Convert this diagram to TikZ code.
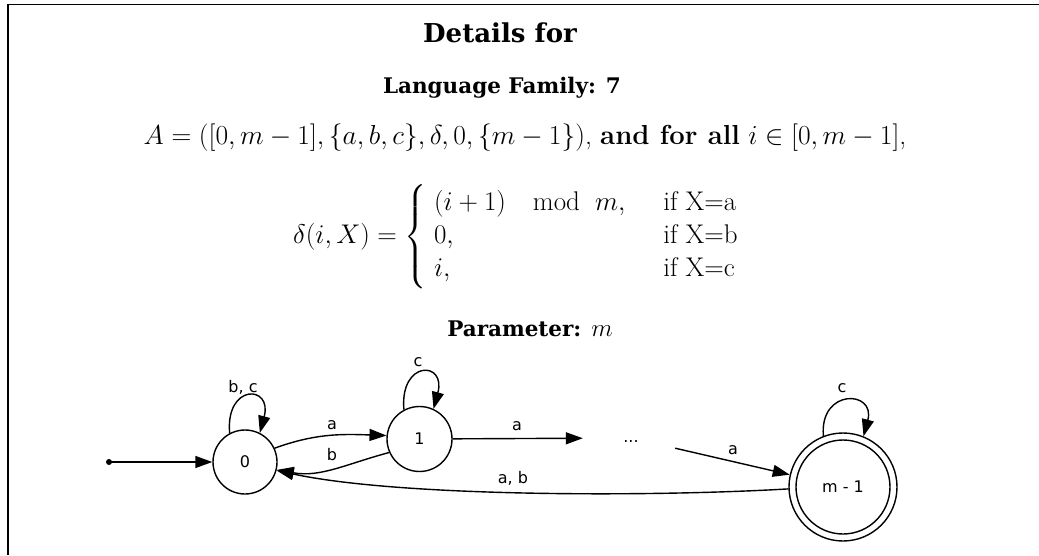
\RequirePackage{fix-cm}
\documentclass[tikz,border=0pt]{standalone}
\usepackage{amsmath}
\usepackage{fontspec}
\usetikzlibrary{arrows.meta}
\newfontfamily\headfont{DejaVu Serif}
\newfontfamily\graphfont{DejaVu Sans}
\begin{document}
\begin{tikzpicture}[x=1pt,y=1pt,
  headtitle/.style={font=\headfont\bfseries\fontsize{26}{30}\selectfont, inner sep=0pt},
  headsub/.style={font=\headfont\bfseries\fontsize{21.5}{25}\selectfont, inner sep=0pt},
  mathtext/.style={font=\fontsize{27}{30}\selectfont, inner sep=0pt},
  state/.style={circle, draw, line width=1.4pt, minimum size=64pt, inner sep=0pt,
    font=\graphfont\fontsize{16}{18}\selectfont},
  edge/.style={line width=1.4pt, -{Triangle[length=17pt,width=12pt]}},
  elabel/.style={font=\graphfont\fontsize{16}{18}\selectfont, inner sep=0pt}]
\path[use as bounding box] (0,0) rectangle (1039,555);
\draw[line width=1.5pt] (8,0) -- (8,550.5) -- (1039,550.5);

\node[headtitle] (title) at (500,522) {Details for};
\node[headsub] (family) at (502,467) {Language Family: 7};
\node[mathtext, font=\fontsize{27.5}{32}\selectfont] (defn) at (525,417)
  {$A=([0,m-1],\{a,b,c\},\delta,0,\{m-1\})$, \textbf{and for all} $i\in[0,m-1]$,};
\node[mathtext] (delta) at (516,318)
  {$\delta(i,X)=\left\{\renewcommand{\arraystretch}{1.1}\begin{array}{@{\;}l@{\hspace{1.4em}}l@{}}
     (i+1)\quad\mathrm{mod}\;\; m, & \text{if X=a}\\
     0, & \text{if X=b}\\
     i, & \text{if X=c}
   \end{array}\right.$};
\node[headsub] (param) at (530,226) {Parameter: \textmd{\fontsize{25}{30}\selectfont$m$}};

% automaton
\coordinate (init) at (109,93);
\fill (init) circle (3);
\node[state] (s0) at (245,93) {0};
\node[state, minimum size=65pt] (s1) at (419.5,116) {1};
\node[elabel, minimum width=96pt, minimum height=20pt, text height=8pt, text depth=0pt] (dots) at (631,117) {...};
\node[state, minimum size=108pt] (s2) at (843,68) {m - 1};
\draw[line width=1.4pt] (s2.center) circle[radius=47];

\draw[edge] (init) -- (s0);
\draw[edge] (s0.25) to[out=20, in=178] (s1.174);
\draw[edge] (s1.204) to[out=195, in=-10] (s0.-14);
\draw[edge] (s1) -- (dots);
\draw[edge] (dots) -- (s2);
\draw[edge] (s2.182) .. controls (650,58) and (400,58) .. (s0.-15);
\draw[edge] (s0.118) .. controls +(95:50) and +(75:50) .. (s0.63);
\draw[edge] (s1.118) .. controls +(95:50) and +(75:50) .. (s1.65);
\draw[edge] (s2.111) .. controls +(95:48) and +(75:48) .. (s2.68);

\node[elabel] (l0) at (243,168) {b, c};
\node[elabel] (l1) at (418,193) {c};
\node[elabel] (l2) at (842,167) {c};
\node[elabel] (l01) at (332,130) {a};
\node[elabel] (l10) at (332,100) {b};
\node[elabel] (l1d) at (517,129) {a};
\node[elabel] (ld2) at (733,105) {a};
\node[elabel] (l20) at (513,77) {a, b};
\end{tikzpicture}
\end{document}
